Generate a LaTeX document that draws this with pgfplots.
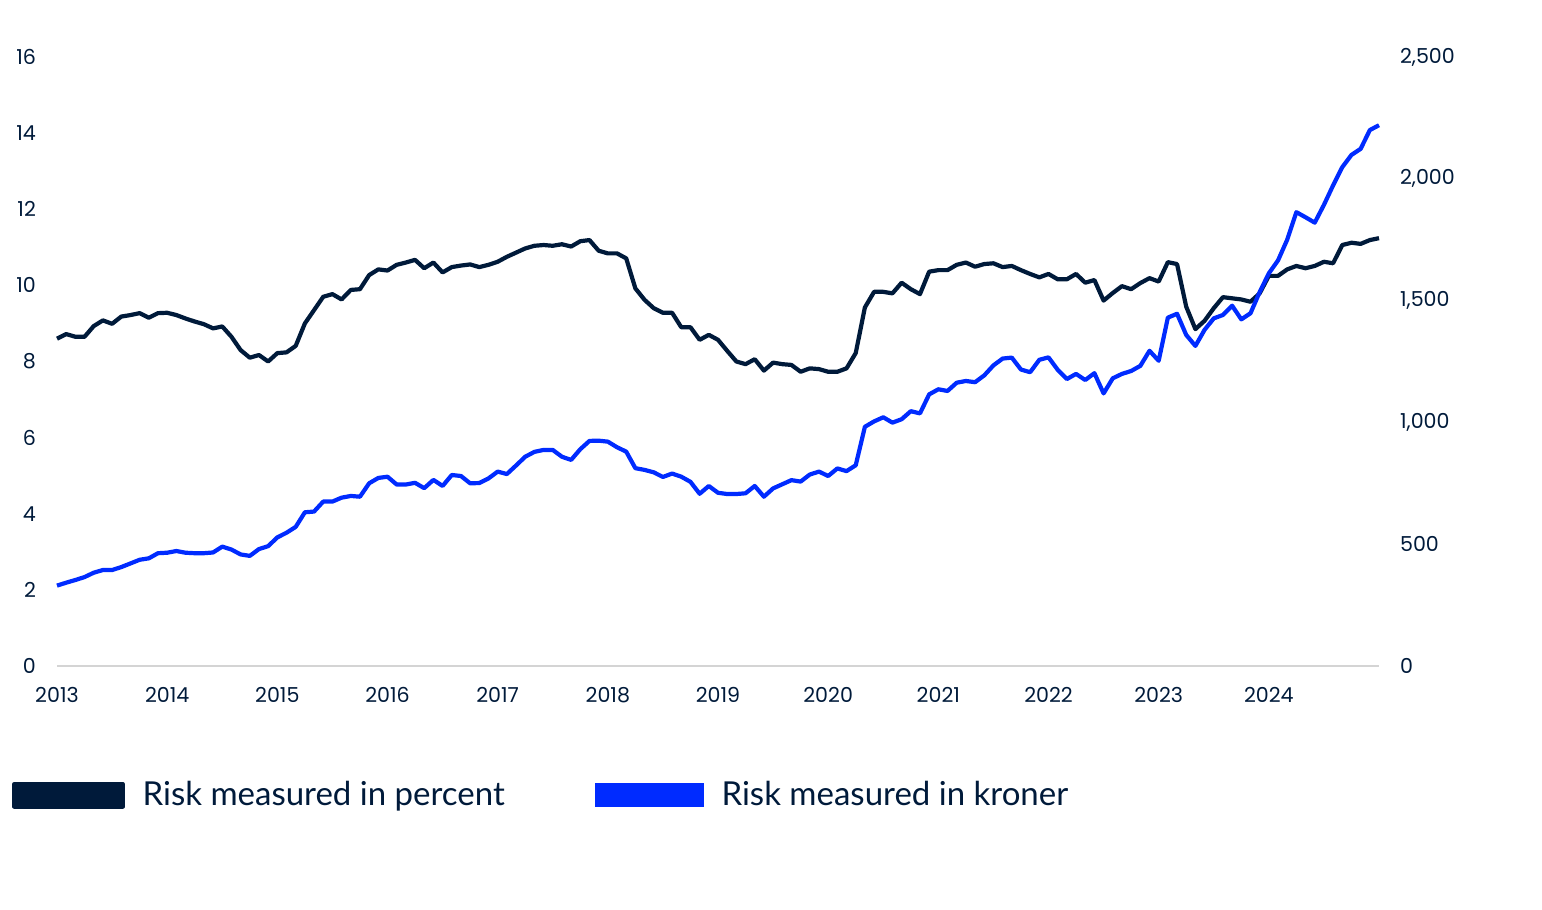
\documentclass[border=0pt]{standalone}
\usepackage{fontspec}
\setmainfont{Lato}
\newfontfamily\tickfont{Poppins}
\usepackage{pgfplots}
\usepackage{pgfplotstable}
\pgfplotsset{compat=1.18}

\definecolor{navy}{RGB}{0,26,58}
\definecolor{nbblue}{RGB}{0,43,255}
\definecolor{axisgray}{RGB}{212,212,212}

% monthly observations, 0 = Jan 2013
\pgfplotstableread{
i pct kr
0 8.60 330
1 8.72 342
2 8.65 353
3 8.65 365
4 8.93 383
5 9.08 394
6 8.99 394
7 9.18 406
8 9.22 421
9 9.27 436
10 9.15 442
11 9.27 463
12 9.28 465
13 9.22 472
14 9.13 465
15 9.05 463
16 8.98 463
17 8.87 466
18 8.92 490
19 8.65 478
20 8.30 458
21 8.10 452
22 8.17 480
23 8.00 492
24 8.22 528
25 8.24 547
26 8.41 571
27 9.00 631
28 9.35 634
29 9.70 675
30 9.77 675
31 9.63 691
32 9.88 698
33 9.90 695
34 10.27 750
35 10.42 772
36 10.39 777
37 10.54 745
38 10.60 745
39 10.67 752
40 10.45 730
41 10.60 764
42 10.34 739
43 10.48 784
44 10.52 780
45 10.55 750
46 10.48 751
47 10.54 770
48 10.62 798
49 10.75 788
50 10.86 823
51 10.97 859
52 11.04 879
53 11.06 887
54 11.04 887
55 11.08 859
56 11.02 846
57 11.16 890
58 11.19 924
59 10.91 925
60 10.84 921
61 10.84 898
62 10.71 880
63 9.92 812
64 9.62 805
65 9.40 795
66 9.28 776
67 9.28 790
68 8.90 777
69 8.90 756
70 8.57 707
71 8.70 739
72 8.57 711
73 8.28 706
74 8.00 706
75 7.93 709
76 8.06 739
77 7.76 695
78 7.97 729
79 7.93 746
80 7.91 763
81 7.73 757
82 7.82 786
83 7.80 798
84 7.73 780
85 7.73 811
86 7.82 800
87 8.22 824
88 9.42 982
89 9.83 1004
90 9.83 1021
91 9.79 999
92 10.07 1013
93 9.90 1046
94 9.77 1037
95 10.36 1115
96 10.40 1136
97 10.40 1129
98 10.54 1163
99 10.60 1170
100 10.49 1165
101 10.56 1193
102 10.58 1234
103 10.48 1262
104 10.51 1266
105 10.40 1217
106 10.30 1206
107 10.21 1257
108 10.30 1267
109 10.16 1216
110 10.16 1178
111 10.30 1199
112 10.07 1174
113 10.14 1202
114 9.60 1119
115 9.80 1181
116 9.98 1199
117 9.90 1211
118 10.06 1232
119 10.19 1294
120 10.10 1253
121 10.61 1430
122 10.56 1446
123 9.44 1359
124 8.85 1314
125 9.07 1380
126 9.40 1427
127 9.69 1441
128 9.66 1479
129 9.63 1423
130 9.57 1448
131 9.79 1535
132 10.25 1612
133 10.25 1665
134 10.42 1750
135 10.51 1863
136 10.45 1842
137 10.51 1820
138 10.62 1893
139 10.58 1973
140 11.06 2048
141 11.12 2098
142 11.09 2123
143 11.19 2200
144 11.24 2220
}\risk

\pgfplotsset{
  base/.style={
    scale only axis, width=661pt, height=304.5pt,
    at={(28.5pt,122pt)}, anchor=south west,
    xmin=0, xmax=144,
    major tick length=0pt,
    tick label style={font=\tickfont\fontsize{10.3}{12}\selectfont, text=navy,
      /pgf/number format/assume math mode=true},
    clip=false,
  },
}

\begin{document}
\begin{tikzpicture}
\path[use as bounding box] (0,0) rectangle (771pt,455pt);

\begin{axis}[base,
  axis x line*=bottom, axis y line*=left,
  x axis line style={axisgray, line width=0.8pt},
  y axis line style={draw=none},
  ymin=0, ymax=16, ytick={0,2,...,16},
  xtick={0,12,...,132},
  xticklabels={2013,2014,2015,2016,2017,2018,2019,2020,2021,2022,2023,2024},
  xticklabel style={yshift=-7pt},
  yticklabel style={xshift=-7pt},
  legend columns=2,
  legend image code/.code={\fill (0pt,-5.75pt) rectangle (54pt,5.75pt);},
  legend style={at={(axis description cs:-0.034,-0.212)}, anchor=west,
    draw=none, fill=none, inner sep=0pt,
    font=\fontsize{16.5}{19}\selectfont, text=navy,
    nodes={inner sep=0pt, anchor=west},
    /tikz/every odd column/.append style={column sep=9pt},
    /tikz/every even column/.append style={column sep=45pt}},
]
\addplot[navy, line width=2.1pt, line join=round] table[x=i, y=pct] {\risk};
\addlegendentry{Risk measured in percent}
\addlegendimage{nbblue}
\addlegendentry{Risk measured in kroner}
\end{axis}

\begin{axis}[base,
  hide x axis,
  axis y line*=right,
  y axis line style={draw=none},
  ymin=0, ymax=2500, ytick={0,500,...,2500},
  yticklabel style={xshift=7pt, /pgf/number format/1000 sep={,}},
]
\addplot[nbblue, line width=2.1pt, line join=round] table[x=i, y=kr] {\risk};
\end{axis}
\end{tikzpicture}
\end{document}
